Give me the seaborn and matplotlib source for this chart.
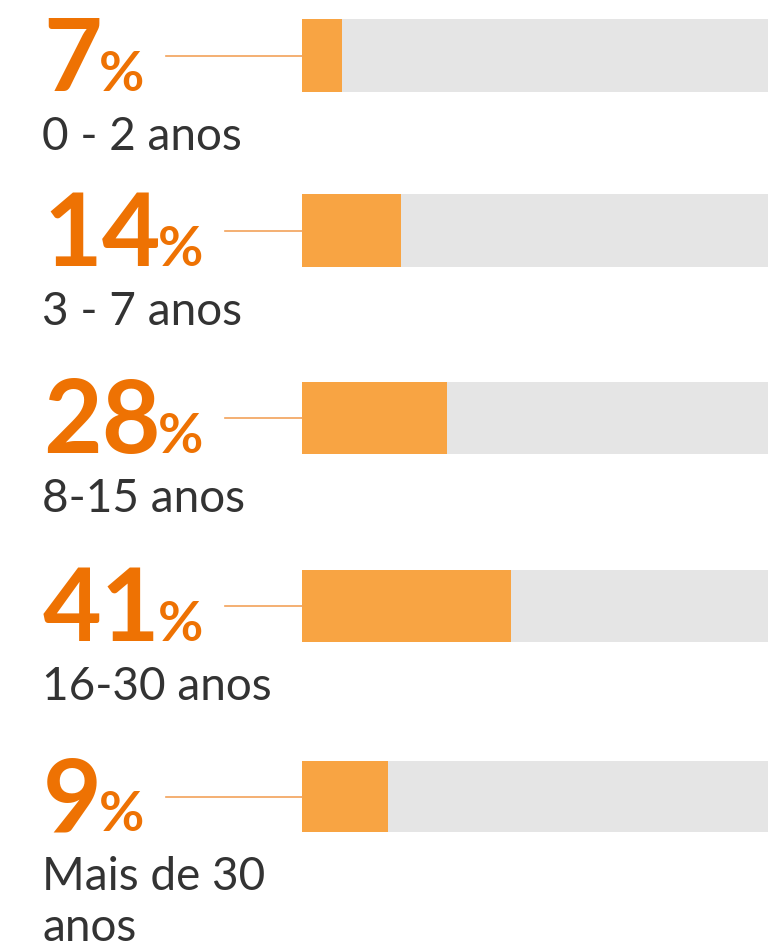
import matplotlib
matplotlib.use("Agg")
import matplotlib.pyplot as plt
import seaborn as sns
import pandas as pd
from matplotlib import font_manager

# data
percents = [7, 14, 28, 41, 9]
labels = ["0 - 2 anos", "3 - 7 anos", "8-15 anos", "16-30 anos", "Mais de 30\nanos"]
# bar lengths as drawn (share of the grey track, %)
bar_lengths = [8.6, 21.2, 31.1, 44.8, 18.5]
track_max = 100

ORANGE = "#ee7203"
BAR = "#f8a443"
TRACK = "#e5e5e5"
LINE = "#f2a25a"
TEXT = "#333333"

names = {f.name for f in font_manager.fontManager.ttflist}
FONT = "Lato" if "Lato" in names else "DejaVu Sans"

W, H = 768, 951
fig = plt.figure(figsize=(W / 100, H / 100), dpi=100)

# pixel layout of each row: (bar top, bar bottom)
rows = [(19, 92), (194, 267), (382, 454), (570, 642), (761, 832)]
bar_x0 = 302


def fx(x):
    return x / W


def fy(y):
    return 1 - y / H


renderer = fig.canvas.get_renderer()

for i, (top, bot) in enumerate(rows):
    ax = fig.add_axes([fx(bar_x0), fy(bot), (W - bar_x0) / W, (bot - top) / H])
    df = pd.DataFrame({"cat": [labels[i]], "track": [track_max], "val": [bar_lengths[i]]})
    sns.barplot(data=df, x="track", y="cat", color=TRACK, width=1, saturation=1, ax=ax)
    sns.barplot(data=df, x="val", y="cat", color=BAR, width=1, saturation=1, ax=ax)
    ax.set_xlim(0, track_max)
    ax.set_ylim(0.5, -0.5)
    ax.axis("off")

    base = bot - 1
    num = fig.text(fx(43), fy(base), str(percents[i]), fontsize=73, fontweight="bold",
                   color=ORANGE, family=FONT, va="baseline", ha="left")
    nb = num.get_window_extent(renderer)
    pct = fig.text((nb.x1 - 3) / W, fy(base), "%", fontsize=40,
                   fontweight="bold", color=ORANGE, family=FONT, va="baseline", ha="left")
    pb = pct.get_window_extent(renderer)
    line_x0 = pb.x1 + 22
    yc = (top + bot) / 2
    fig.add_artist(plt.Line2D([line_x0 / W, fx(bar_x0)], [fy(yc), fy(yc)],
                              color=LINE, lw=1.2))
    for k, part in enumerate(labels[i].split("\n")):
        fig.text(fx(42), fy(base + 59 + 51 * k), part, fontsize=33, fontweight="normal",
                 color=TEXT, family=FONT, va="baseline", ha="left")

fig.savefig("out.png", dpi=100)
